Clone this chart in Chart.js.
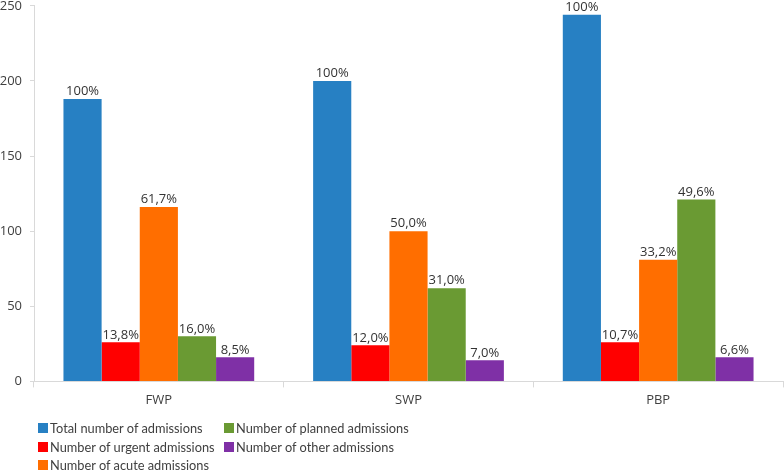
<!DOCTYPE html>
<html>
<head>
<meta charset="utf-8">
<script src="https://cdn.jsdelivr.net/npm/chart.js@4/dist/chart.umd.min.js"></script>
<style>
  html, body { margin: 0; padding: 0; background: #fff; overflow: hidden; }
  #wrap { position: relative; width: 784px; height: 472px; overflow: hidden; }
  #c { position: absolute; left: 0; top: -10px; }
  #legend { position: absolute; left: 38px; top: 419px; font-family: Lato, sans-serif; font-size: 12.8px; color: #404040; display: grid; grid-template-columns: 186px auto; grid-auto-flow: column; grid-template-rows: 18.5px 18.5px 18.5px; }
  .li { display: flex; align-items: center; white-space: nowrap; }
  .sw { width: 10px; height: 10px; margin-right: 2px; display: inline-block; flex-shrink: 0; }
  #fontprobe { position: absolute; left: -1000px; top: 0; font-family: "Open Sans"; font-size: 13px; }
</style>
</head>
<body>
<div id="wrap">
  <canvas id="c" width="784" height="479"></canvas>
  <div id="legend"></div>
</div>
<span id="fontprobe">0123456789%,FWP</span>
<script>
const categories = ["FWP", "SWP", "PBP"];
const seriesNames = ["Total number of admissions", "Number of urgent admissions", "Number of acute admissions", "Number of planned admissions", "Number of other admissions"];
const totalValues = [188, 200, 244];
const urgentValues = [26, 24, 26];
const acuteValues = [116, 100, 81];
const plannedValues = [30, 62, 121];
const otherValues = [16, 14, 16];
const totalLabels = ["100%", "100%", "100%"];
const urgentLabels = ["13,8%", "12,0%", "10,7%"];
const acuteLabels = ["61,7%", "50,0%", "33,2%"];
const plannedLabels = ["16,0%", "31,0%", "49,6%"];
const otherLabels = ["8,5%", "7,0%", "6,6%"];
const yTicks = [0, 50, 100, 150, 200, 250];

const colors = ["#2780C3", "#FF0000", "#FF6E00", "#6A9A33", "#7F30A6"];
const values = [totalValues, urgentValues, acuteValues, plannedValues, otherValues];
const labels = [totalLabels, urgentLabels, acuteLabels, plannedLabels, otherLabels];

const FONT = '"Open Sans", sans-serif';

const datasets = seriesNames.map((n, i) => ({
  label: n,
  data: values[i],
  pctLabels: labels[i],
  backgroundColor: colors[i],
  borderWidth: 0,
  barPercentage: 1,
  categoryPercentage: 0.764
}));

const valueLabelPlugin = {
  id: 'valueLabels',
  afterDatasetsDraw(chart) {
    const ctx = chart.ctx;
    ctx.save();
    ctx.font = '13px ' + FONT;
    ctx.fillStyle = '#333333';
    ctx.textAlign = 'center';
    ctx.textBaseline = 'bottom';
    chart.data.datasets.forEach((ds, di) => {
      const meta = chart.getDatasetMeta(di);
      meta.data.forEach((bar, j) => {
        ctx.fillText(ds.pctLabels[j], bar.x, bar.y - 1);
      });
    });
    ctx.restore();
  }
};

function draw() {
  new Chart(document.getElementById('c'), {
    type: 'bar',
    data: { labels: categories, datasets },
    options: {
      responsive: false,
      animation: false,
      layout: { padding: { top: 0, right: 1, bottom: 55, left: 0 } },
      plugins: { legend: { display: false }, tooltip: { enabled: false } },
      scales: {
        x: {
          grid: { display: true, drawOnChartArea: false, offset: true, color: '#D9D9D9', tickLength: 6 },
          border: { display: true, color: '#D9D9D9' },
          ticks: { font: { family: FONT, size: 13 }, color: '#404040', padding: 5.5 }
        },
        y: {
          min: 0, max: 250,
          afterBuildTicks(axis) { axis.ticks = yTicks.map(v => ({ value: v })); },
          afterFit(axis) { axis.width = 34; },
          grid: { display: true, drawOnChartArea: false, color: '#D9D9D9', tickLength: 4 },
          border: { display: true, color: '#D9D9D9' },
          ticks: { font: { family: FONT, size: 13 }, color: '#404040', padding: 8 }
        }
      }
    },
    plugins: [valueLabelPlugin]
  });
}

const lg = document.getElementById('legend');
seriesNames.forEach((n, i) => {
  const d = document.createElement('div');
  d.className = 'li';
  const s = document.createElement('span');
  s.className = 'sw';
  s.style.background = colors[i];
  d.appendChild(s);
  d.appendChild(document.createTextNode(n));
  lg.appendChild(d);
});

if (document.fonts && document.fonts.load) {
  document.fonts.load('13px "Open Sans"').then(draw, draw);
} else {
  draw();
}
</script>
</body>
</html>
